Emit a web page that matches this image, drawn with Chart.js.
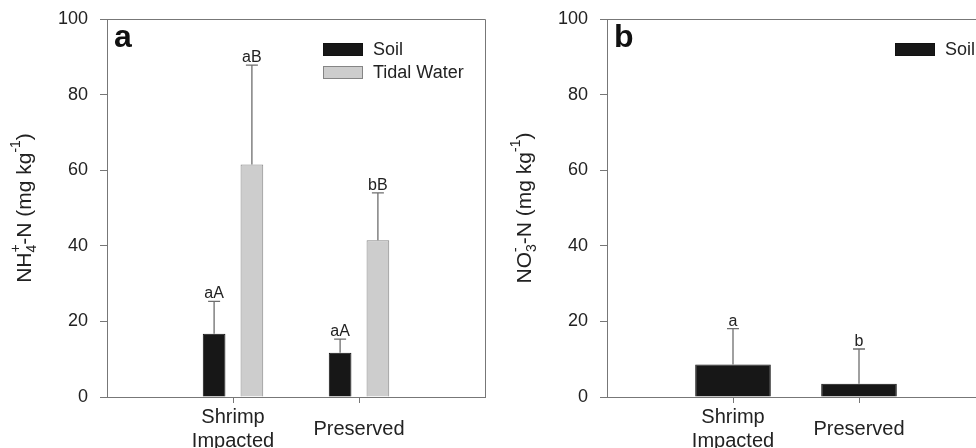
<!DOCTYPE html>
<html>
<head>
<meta charset="utf-8">
<script src="https://cdn.jsdelivr.net/npm/chart.js@4.4.1/dist/chart.umd.min.js"></script>
<style>
  html, body { margin: 0; padding: 0; background: #fff; overflow: hidden; width: 976px; height: 448px; }
  #wrapA { position: absolute; left: 0; top: 0; width: 490px; height: 448px; }
  #wrapB { position: absolute; left: 490px; top: 0; width: 500px; height: 448px; }
</style>
</head>
<body>
<div id="wrapA"><canvas id="chartA" width="490" height="448"></canvas></div>
<div id="wrapB"><canvas id="chartB" width="500" height="448"></canvas></div>

<script>
/* ---------- data ---------- */
const categories   = [['Shrimp', 'Impacted'], 'Preserved'];
const yTicks       = [0, 20, 40, 60, 80, 100];

// panel a : NH4+-N
const soilNH4      = [16.7, 11.7];
const soilNH4Err   = [8.6, 3.6];
const soilNH4Sig   = ['aA', 'aA'];
const tidalNH4     = [61.5, 41.5];
const tidalNH4Err  = [26.3, 12.5];
const tidalNH4Sig  = ['aB', 'bB'];

// panel b : NO3--N
const soilNO3      = [8.6, 3.5];
const soilNO3Err   = [9.5, 9.2];
const soilNO3Sig   = ['a', 'b'];

/* ---------- styles ---------- */
const FONT       = "'Liberation Sans', Arial, sans-serif";
const AXIS_COLOR = '#777777';
const ERR_COLOR  = '#6e6e6e';
const SOIL_FILL  = '#171717';
const TIDAL_FILL = '#cdcdcd';
const TIDAL_LINE = '#858585';

/* categories sit at 1/3 and 2/3 of the axis, so pad with empty slots */
const pad = arr => [null, ...arr, null];
const xLabels = ['', ...categories, ''];

/* ---------- plugins ---------- */

// top + right frame of the plot box
const frame = {
  id: 'frame',
  afterDraw(chart) {
    const { ctx, chartArea: a } = chart;
    ctx.save();
    ctx.strokeStyle = AXIS_COLOR;
    ctx.lineWidth = 1;
    ctx.beginPath();
    ctx.moveTo(a.left, a.top + 0.5);
    ctx.lineTo(a.right + 0.5, a.top + 0.5);
    ctx.lineTo(a.right + 0.5, a.bottom);
    ctx.stroke();
    ctx.restore();
  }
};

// one-sided error bars with significance letters
const errorBars = {
  id: 'errorBars',
  afterDatasetsDraw(chart) {
    const { ctx } = chart;
    const y = chart.scales.y;
    chart.data.datasets.forEach((ds, di) => {
      const meta = chart.getDatasetMeta(di);
      meta.data.forEach((bar, i) => {
        const v = ds.data[i];
        if (v == null) return;
        const yTop = y.getPixelForValue(v + ds.errors[i]);
        ctx.save();
        ctx.strokeStyle = ERR_COLOR;
        ctx.lineWidth = 1.3;
        ctx.beginPath();
        ctx.moveTo(bar.x, bar.y);
        ctx.lineTo(bar.x, yTop);
        ctx.moveTo(bar.x - 6, yTop);
        ctx.lineTo(bar.x + 6, yTop);
        ctx.stroke();
        ctx.fillStyle = '#222';
        ctx.font = '16px ' + FONT;
        ctx.textAlign = 'center';
        ctx.textBaseline = 'alphabetic';
        ctx.fillText(ds.letters[i], bar.x, yTop - 3);
        ctx.restore();
      });
    });
  }
};

// legend boxes, panel letter and rotated y-title with sub/superscripts
const decor = {
  id: 'decor',
  afterDraw(chart, args, opts) {
    const { ctx, chartArea: a } = chart;
    ctx.save();

    // panel letter
    ctx.fillStyle = '#111';
    ctx.font = 'bold 32px ' + FONT;
    ctx.textBaseline = 'alphabetic';
    ctx.textAlign = 'left';
    ctx.fillText(opts.letter, a.left + 7, 47);

    // legend
    ctx.font = '18px ' + FONT;
    ctx.textBaseline = 'middle';
    chart.data.datasets.forEach((ds, i) => {
      const bx = a.left + opts.legendX;
      const by = opts.legendY + i * 23;
      ctx.fillStyle = ds.backgroundColor;
      ctx.fillRect(bx, by, 40, 13);
      ctx.strokeStyle = ds.borderColor;
      ctx.lineWidth = 1;
      ctx.strokeRect(bx + 0.5, by + 0.5, 39, 12);
      ctx.fillStyle = '#222';
      ctx.fillText(ds.label, bx + 50, by + 7);
    });

    // y title, rotated
    const big = 21, small = 14;
    let w = 0;
    const widths = opts.title.map(p => {
      ctx.font = (p.s ? small : big) + 'px ' + FONT;
      const tw = ctx.measureText(p.t).width;
      const adv = p.stack ? 0 : tw;
      w += adv;
      return { tw, adv };
    });
    ctx.translate(a.left - 82, (a.top + a.bottom) / 2);
    ctx.rotate(-Math.PI / 2);
    ctx.fillStyle = '#222';
    ctx.textBaseline = 'middle';
    ctx.textAlign = 'left';
    let x = -w / 2;
    let prevX = x;
    opts.title.forEach((p, i) => {
      ctx.font = (p.s ? small : big) + 'px ' + FONT;
      const px = p.stack ? prevX : x;
      const dy = p.s === 'sub' ? 7 : p.s === 'sup' ? -9 : 0;
      ctx.fillText(p.t, px, dy);
      if (!p.stack) { prevX = x; x += widths[i].adv; }
    });
    ctx.restore();
  }
};

/* ---------- shared options ---------- */
function makeOptions(yWidth, letter, legendX, legendY, title) {
  return {
    responsive: false,
    animation: false,
    devicePixelRatio: 1,
    layout: { padding: { top: 19, right: 5, left: 0, bottom: 0 } },
    plugins: {
      legend: { display: false },
      tooltip: { enabled: false },
      decor: { letter, legendX, legendY, title }
    },
    scales: {
      x: {
        offset: false,
        afterFit: s => {
          s.height = 51;
          s.paddingLeft = 0;
          s.paddingRight = 0;
        },
        grid: {
          offset: false,
          drawOnChartArea: false,
          tickLength: 6,
          tickColor: c => (c.index === 0 || c.index === xLabels.length - 1) ? 'rgba(0,0,0,0)' : AXIS_COLOR
        },
        border: { color: AXIS_COLOR, width: 1 },
        ticks: {
          color: '#222',
          font: { size: 20, family: FONT, lineHeight: 1.2 },
          padding: 14,
          maxRotation: 0,
          autoSkip: false,
          crossAlign: 'center'
        }
      },
      y: {
        min: 0,
        max: 100,
        afterFit: s => {
          s.width = yWidth;
          s.paddingTop = 0;
          s.paddingBottom = 0;
        },
        afterBuildTicks: s => { s.ticks = yTicks.map(v => ({ value: v })); },
        grid: { drawOnChartArea: false, tickLength: 7, tickColor: AXIS_COLOR },
        border: { color: AXIS_COLOR, width: 1 },
        ticks: { color: '#222', font: { size: 18, family: FONT }, padding: 12 }
      }
    }
  };
}

/* ---------- panel a ---------- */
new Chart(document.getElementById('chartA'), {
  type: 'bar',
  data: {
    labels: xLabels,
    datasets: [
      {
        label: 'Soil',
        data: pad(soilNH4),
        errors: pad(soilNH4Err),
        letters: pad(soilNH4Sig),
        backgroundColor: SOIL_FILL,
        borderColor: '#111',
        borderWidth: 1,
        barPercentage: 0.6,
        categoryPercentage: 0.6
      },
      {
        label: 'Tidal Water',
        data: pad(tidalNH4),
        errors: pad(tidalNH4Err),
        letters: pad(tidalNH4Sig),
        backgroundColor: TIDAL_FILL,
        borderColor: TIDAL_LINE,
        borderWidth: 1,
        barPercentage: 0.6,
        categoryPercentage: 0.6
      }
    ]
  },
  options: makeOptions(107, 'a', 216, 43, [
    { t: 'NH' }, { t: '4', s: 'sub' }, { t: '+', s: 'sup', stack: true },
    { t: '-N (mg kg' }, { t: '-1', s: 'sup' }, { t: ')' }
  ]),
  plugins: [frame, errorBars, decor]
});

/* ---------- panel b ---------- */
new Chart(document.getElementById('chartB'), {
  type: 'bar',
  data: {
    labels: xLabels,
    datasets: [
      {
        label: 'Soil',
        data: pad(soilNO3),
        errors: pad(soilNO3Err),
        letters: pad(soilNO3Sig),
        backgroundColor: SOIL_FILL,
        borderColor: '#111',
        borderWidth: 1,
        barPercentage: 1.0,
        categoryPercentage: 0.6
      }
    ]
  },
  options: makeOptions(117, 'b', 288, 43, [
    { t: 'NO' }, { t: '3', s: 'sub' }, { t: '-', s: 'sup', stack: true },
    { t: '-N (mg kg' }, { t: '-1', s: 'sup' }, { t: ')' }
  ]),
  plugins: [frame, errorBars, decor]
});
</script>
</body>
</html>
